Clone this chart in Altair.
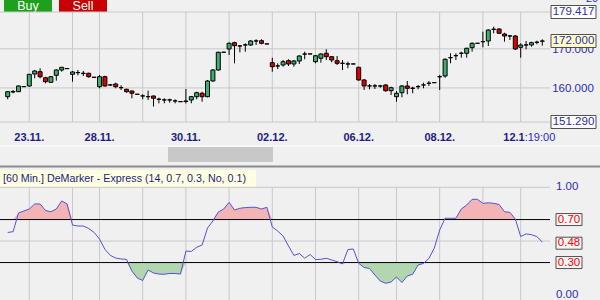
import altair as alt
import pandas as pd
import numpy as np

# ---------------- data ----------------
opens = [157.76, 158.96, 159.04, 160.37, 160.50, 163.56, 164.15, 162.62, 161.44, 163.23,
         164.59, 164.97, 163.49, 163.95, 163.75, 163.74, 162.74, 160.32, 162.87, 160.77,
         161.01, 160.08, 159.65, 159.22, 158.39, 157.96, 157.78, 157.94, 157.12, 156.94,
         156.92, 156.68, 156.50, 156.53, 156.92, 157.76, 158.63, 157.76, 161.77, 164.59,
         169.13, 169.96, 171.57, 170.74, 170.98, 170.98, 172.02, 172.08, 171.26, 166.45,
         165.63, 165.87, 166.96, 166.12, 166.89, 168.66, 168.70, 166.71, 167.58, 168.86,
         167.99, 166.96, 166.32, 166.12, 166.14, 165.28, 162.03, 160.52, 160.50, 160.50,
         160.75, 159.29, 157.76, 158.78, 160.50, 159.93, 160.32, 160.75, 161.19, 161.34,
         162.85, 163.05, 167.73, 168.24, 168.86, 168.86, 170.29, 171.41, 171.82, 172.00,
         174.99, 175.07, 173.79, 173.28, 173.28, 170.39, 170.98, 170.98, 171.67, 171.96]
highs = [159.22, 159.47, 160.62, 160.50, 163.56, 164.59, 165.02, 162.87, 163.05, 164.77,
         165.35, 165.02, 164.33, 164.59, 164.33, 163.90, 162.74, 163.31, 163.13, 161.01,
         161.34, 160.68, 159.81, 159.35, 158.39, 158.37, 159.29, 158.07, 157.50, 157.35,
         157.25, 157.10, 156.50, 159.73, 157.94, 159.04, 159.04, 162.03, 164.84, 169.27,
         169.13, 171.67, 171.82, 170.98, 171.41, 172.26, 172.44, 172.44, 171.26, 167.73,
         166.30, 167.14, 167.32, 167.14, 168.35, 169.27, 168.70, 168.42, 168.86, 169.88,
         168.17, 168.17, 167.14, 166.71, 166.14, 165.43, 162.29, 161.01, 161.01, 160.75,
         161.01, 160.32, 159.22, 160.75, 161.77, 160.32, 160.75, 161.34, 161.77, 161.36,
         163.31, 167.58, 168.86, 168.86, 169.27, 170.29, 171.67, 171.43, 174.38, 174.99,
         175.66, 175.25, 174.12, 173.54, 173.54, 171.41, 172.00, 171.82, 172.08, 172.44]
lows = [157.10, 158.63, 158.96, 160.16, 160.32, 162.46, 162.46, 161.19, 161.34, 161.85,
        164.15, 164.84, 161.60, 163.23, 163.05, 162.62, 162.70, 159.91, 160.32, 160.50,
        159.91, 159.47, 158.78, 157.35, 158.37, 157.10, 156.92, 155.25, 156.07, 156.07,
        156.22, 156.07, 156.48, 156.02, 156.07, 157.10, 156.48, 157.61, 161.60, 164.41,
        169.11, 168.42, 166.30, 169.11, 169.27, 170.72, 170.98, 171.16, 171.24, 164.15,
        164.84, 165.43, 165.61, 165.43, 166.12, 167.32, 168.68, 166.30, 166.45, 167.14,
        166.56, 165.87, 164.59, 165.02, 166.12, 161.85, 159.47, 159.65, 159.73, 160.06,
        159.04, 158.19, 156.48, 157.60, 158.37, 158.63, 159.65, 159.91, 160.50, 161.34,
        159.47, 162.62, 166.30, 167.14, 167.73, 167.73, 169.27, 171.41, 170.39, 170.72,
        173.97, 173.79, 171.82, 172.26, 169.70, 167.73, 169.88, 170.54, 171.16, 170.80]
closes = [159.04, 159.09, 160.50, 160.32, 163.49, 164.33, 162.87, 161.60, 162.87, 164.59,
          165.28, 164.92, 164.08, 163.90, 163.72, 162.87, 162.70, 162.87, 160.50, 160.75,
          160.32, 160.06, 159.04, 158.63, 158.37, 157.94, 157.76, 157.35, 157.10, 156.92,
          156.94, 156.66, 156.48, 156.66, 157.76, 158.78, 157.76, 161.77, 164.59, 169.11,
          169.11, 171.41, 170.80, 170.72, 171.00, 172.00, 172.00, 171.41, 171.24, 165.43,
          165.61, 166.71, 166.12, 166.89, 168.17, 168.68, 168.68, 168.24, 168.68, 167.99,
          167.14, 166.30, 166.30, 166.14, 166.12, 162.03, 160.50, 160.50, 160.52, 160.50,
          159.29, 160.06, 158.63, 160.50, 159.91, 159.91, 160.34, 160.77, 161.21, 161.36,
          162.87, 167.32, 167.75, 168.26, 168.88, 170.14, 171.41, 171.43, 171.84, 174.81,
          175.01, 173.97, 173.28, 173.30, 169.96, 170.98, 171.00, 171.57, 171.69, 172.00]
demarker = [0.580, 0.587, 0.761, 0.780, 0.798, 0.845, 0.845, 0.784, 0.773, 0.798,
            0.873, 0.845, 0.649, 0.640, 0.640, 0.617, 0.580, 0.519, 0.423, 0.367,
            0.342, 0.333, 0.330, 0.221, 0.156, 0.133, 0.231, 0.203, 0.193, 0.191,
            0.198, 0.198, 0.193, 0.407, 0.403, 0.442, 0.463, 0.621, 0.687, 0.770,
            0.798, 0.860, 0.789, 0.805, 0.811, 0.814, 0.814, 0.798, 0.814, 0.631,
            0.593, 0.547, 0.454, 0.366, 0.384, 0.340, 0.375, 0.328, 0.330, 0.340,
            0.324, 0.308, 0.287, 0.421, 0.426, 0.293, 0.254, 0.245, 0.184, 0.128,
            0.107, 0.119, 0.166, 0.114, 0.175, 0.191, 0.277, 0.292, 0.338, 0.435,
            0.603, 0.712, 0.712, 0.712, 0.798, 0.835, 0.888, 0.888, 0.851, 0.856,
            0.851, 0.840, 0.773, 0.767, 0.705, 0.542, 0.566, 0.559, 0.542, 0.490]

grid_bars = [4, 12, 17, 25, 33, 41, 49, 57, 65, 72, 80, 88, 95]
date_bars = [4, 17, 33, 49, 65, 80]
date_labels = ["23.11.", "28.11.", "30.11.", "02.12.", "06.12.", "08.12."]
last_date_bar = [95]
last_date_label = ["12.1"]
last_time_label = [":19:00"]

price_grid = [179.417, 170.0, 160.0, 151.29]
price_ticks = [170.0, 160.0]
price_tick_labels = ["170.000", "160.000"]
price_marks = [179.417, 172.0, 151.29]
price_mark_labels = ["179.417", "172.000", "151.290"]
price_mark_fills = ["#ffffff", "#ffffc8", "#ffffff"]

dem_grid = [1.0, 0.5]
dem_levels = [0.7, 0.3]
dem_ticks = [1.0, 0.0]
dem_tick_labels = ["1.00", "0.00"]
dem_marks = [0.70, 0.48, 0.30]
dem_mark_labels = ["0.70", "0.48", "0.30"]

title_text = ["[60 Min.] DeMarker - Express  (14, 0.7, 0.3, No, 0.1)"]

# ---------------- tables ----------------
idx = list(range(len(opens)))
cdf = pd.DataFrame({"i": idx, "o": opens, "h": highs, "l": lows, "c": closes})
cdf["dir"] = np.where(cdf["c"] > cdf["o"], "up", np.where(cdf["c"] < cdf["o"], "down", "flat"))
ddf = pd.DataFrame({"i": idx, "v": demarker})

F = "Liberation Sans"
BLUE = "#2c2cb0"
NAVY = "#1c1c84"
GRID = "#c8c8c8"

X = alt.Scale(domain=[-0.5, 99.5], range=[0, 550])
PY = alt.Scale(domain=[151.29, 179.417], range=[122, 12])
DY = alt.Scale(domain=[0, 1], range=[294.8, 187.3])


def xi(field="i"):
    return alt.X(f"{field}:Q", scale=X, axis=None)


one = pd.DataFrame({"k": [0]})
layers = []

# buttons
layers.append(alt.Chart(one).mark_rect(color="#1ea01e").encode(
    x=alt.value(4), x2=alt.value(52), y=alt.value(0), y2=alt.value(12)))
layers.append(alt.Chart(one).mark_rect(color="#c80000").encode(
    x=alt.value(59), x2=alt.value(107), y=alt.value(0), y2=alt.value(12)))
layers.append(alt.Chart(pd.DataFrame({"b": ["Buy"]})).mark_text(
    font=F, fontSize=12.5, color="white", baseline="middle").encode(
    x=alt.value(28), y=alt.value(6), text="b:N"))
layers.append(alt.Chart(pd.DataFrame({"b": ["Sell"]})).mark_text(
    font=F, fontSize=12.5, color="white", baseline="middle").encode(
    x=alt.value(83), y=alt.value(6), text="b:N"))

# scroll bar and separator
layers.append(alt.Chart(one).mark_rule(color="white", strokeWidth=1).encode(
    x=alt.value(0), x2=alt.value(600), y=alt.value(146)))
layers.append(alt.Chart(one).mark_rect(color="#c8c8c8").encode(
    x=alt.value(168), x2=alt.value(273), y=alt.value(147), y2=alt.value(162)))
layers.append(alt.Chart(one).mark_rect(color="#8c8c8c").encode(
    x=alt.value(0), x2=alt.value(600), y=alt.value(165.5), y2=alt.value(167.5)))

# title bar
layers.append(alt.Chart(one).mark_rect(color="#ffffe1").encode(
    x=alt.value(0), x2=alt.value(256), y=alt.value(170), y2=alt.value(187)))
layers.append(alt.Chart(pd.DataFrame({"t": title_text})).mark_text(
    font=F, fontSize=10.7, color=NAVY, align="left", baseline="middle").encode(
    x=alt.value(3), y=alt.value(179), text="t:N"))

# price grid
layers.append(alt.Chart(pd.DataFrame({"g": grid_bars})).mark_rule(color=GRID).encode(
    x=xi("g"), y=alt.value(12), y2=alt.value(122)))
layers.append(alt.Chart(pd.DataFrame({"p": price_grid})).mark_rule(color=GRID).encode(
    y=alt.Y("p:Q", scale=PY, axis=None), x=alt.value(0), x2=alt.value(550)))

# indicator grid
layers.append(alt.Chart(pd.DataFrame({"g": grid_bars})).mark_rule(color=GRID).encode(
    x=xi("g"), y=alt.value(187), y2=alt.value(300)))
layers.append(alt.Chart(pd.DataFrame({"d": dem_grid})).mark_rule(color=GRID).encode(
    y=alt.Y("d:Q", scale=DY, axis=None), x=alt.value(0), x2=alt.value(550)))

# indicator fills
layers.append(alt.Chart(ddf).transform_calculate(
    hi="max(datum.v, 0.7)", base="0.7").mark_area(color="#f2b4b4", opacity=1).encode(
    x=xi(), y=alt.Y("hi:Q", scale=DY, axis=None), y2="base:Q"))
layers.append(alt.Chart(ddf).transform_calculate(
    lo="min(datum.v, 0.3)", base="0.3").mark_area(color="#b2d6ae", opacity=1).encode(
    x=xi(), y=alt.Y("lo:Q", scale=DY, axis=None), y2="base:Q"))

# level lines
layers.append(alt.Chart(pd.DataFrame({"d": dem_levels})).mark_rule(color="black", strokeWidth=1).encode(
    y=alt.Y("d:Q", scale=DY, axis=None), x=alt.value(0), x2=alt.value(550)))

# indicator line
layers.append(alt.Chart(ddf).mark_line(color="#5252d6", strokeWidth=1).encode(
    x=xi(), y=alt.Y("v:Q", scale=DY, axis=None)))

# candles
layers.append(alt.Chart(cdf).mark_rule(color="black", strokeWidth=1).encode(
    x=xi(), y=alt.Y("l:Q", scale=PY, axis=None), y2="h:Q"))
layers.append(alt.Chart(cdf).mark_bar(size=4, stroke="black", strokeWidth=1).encode(
    x=xi(), y=alt.Y("o:Q", scale=PY, axis=None), y2="c:Q",
    color=alt.Color("dir:N", scale=alt.Scale(domain=["up", "down", "flat"],
                                             range=["#3cae72", "#e00000", "#000000"]), legend=None)))

# date labels
layers.append(alt.Chart(pd.DataFrame({"i": date_bars, "t": date_labels})).mark_text(
    font=F, fontSize=11, fontWeight="bold", color=NAVY, baseline="middle").encode(
    x=xi(), y=alt.value(138), text="t:N"))
layers.append(alt.Chart(pd.DataFrame({"i": last_date_bar, "t": last_date_label})).mark_text(
    font=F, fontSize=11, fontWeight="bold", color=NAVY, baseline="middle", align="right", dx=4).encode(
    x=xi(), y=alt.value(138), text="t:N"))
layers.append(alt.Chart(pd.DataFrame({"i": last_date_bar, "t": last_time_label})).mark_text(
    font=F, fontSize=11, color="#2a2ac8", baseline="middle", align="left", dx=4).encode(
    x=xi(), y=alt.value(138), text="t:N"))

# price axis labels
layers.append(alt.Chart(pd.DataFrame({"t": ["20"]})).mark_text(
    font=F, fontSize=11, color=BLUE, baseline="middle").encode(
    x=alt.value(592), y=alt.value(-1), text="t:N"))
layers.append(alt.Chart(pd.DataFrame({"p": price_ticks, "t": price_tick_labels})).mark_text(
    font=F, fontSize=11.5, color=BLUE, baseline="middle", dy=1).encode(
    x=alt.value(573), y=alt.Y("p:Q", scale=PY, axis=None), text="t:N"))
BOX45 = "M-1,-0.289H1V0.289H-1Z"
layers.append(alt.Chart(pd.DataFrame({"p": price_marks, "f": price_mark_fills})).mark_point(
    shape=BOX45, size=2025, filled=True, opacity=1, stroke="#505050", strokeWidth=1).encode(
    x=alt.value(573.5), y=alt.Y("p:Q", scale=PY, axis=None), fill=alt.Fill("f:N", scale=None)))
layers.append(alt.Chart(pd.DataFrame({"p": price_marks, "t": price_mark_labels})).mark_text(
    font=F, fontSize=11.5, color=BLUE, baseline="middle").encode(
    x=alt.value(573.5), y=alt.Y("p:Q", scale=PY, axis=None), text="t:N"))

# indicator axis labels
layers.append(alt.Chart(pd.DataFrame({"d": dem_ticks, "t": dem_tick_labels})).mark_text(
    font=F, fontSize=11.5, color=BLUE, baseline="middle", align="left").encode(
    x=alt.value(556), y=alt.Y("d:Q", scale=DY, axis=None), text="t:N"))
BOX26 = "M-1,-0.4615H1V0.4615H-1Z"
layers.append(alt.Chart(pd.DataFrame({"d": dem_marks})).mark_point(
    shape=BOX26, size=676, filled=True, opacity=1, fill="#f6f6f6", stroke="#505050", strokeWidth=1).encode(
    x=alt.value(569), y=alt.Y("d:Q", scale=DY, axis=None)))
layers.append(alt.Chart(pd.DataFrame({"d": dem_marks, "t": dem_mark_labels})).mark_text(
    font=F, fontSize=11.5, color="#ff0000", baseline="middle").encode(
    x=alt.value(569), y=alt.Y("d:Q", scale=DY, axis=None), text="t:N"))

chart = alt.layer(*layers).resolve_scale(y="independent", x="shared").properties(
    width=600, height=300, padding=0,
    autosize=alt.AutoSizeParams(type="none"),
    background="#f0f0f0",
).configure_view(stroke=None)

chart.save("out.html", embed_options={"renderer": "svg", "actions": False})
